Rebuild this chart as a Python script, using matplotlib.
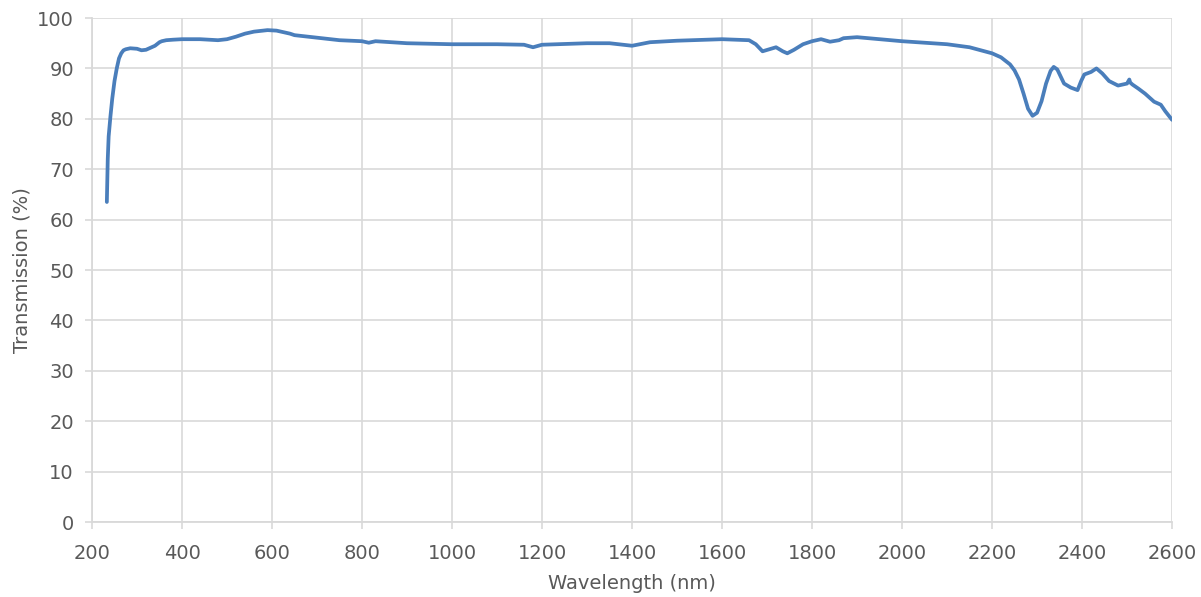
import numpy as np
import matplotlib.pyplot as plt

plt.rcParams['font.family'] = ['DejaVu Sans']

# transmission spectrum
wavelength = [233, 235, 237, 241, 245, 250, 255, 260, 265, 270, 275, 285, 300, 310, 320, 330,
              340, 350, 355, 365, 380, 400, 440, 480, 500, 520, 540, 560, 590, 610, 620, 640,
              650, 700, 750, 800, 815, 830, 900, 1000, 1100, 1160, 1180, 1200, 1300, 1350,
              1400, 1440, 1500, 1600, 1660, 1675, 1690, 1705, 1720, 1735, 1745, 1760, 1780,
              1800, 1820, 1840, 1860, 1870, 1900, 2000, 2100, 2150, 2200, 2220, 2240, 2250,
              2260, 2270, 2280, 2290, 2300, 2310, 2320, 2330, 2337, 2345, 2360, 2375, 2390,
              2398, 2405, 2420, 2432, 2445, 2460, 2480, 2500, 2505, 2507, 2512, 2525, 2540,
              2560, 2575, 2585, 2600]
transmission = [63.5, 72.0, 76.5, 80.5, 84.0, 87.5, 90.0, 92.0, 93.0, 93.6, 93.8, 94.0, 93.9,
                93.6, 93.7, 94.1, 94.5, 95.2, 95.4, 95.6, 95.7, 95.8, 95.8, 95.6, 95.8, 96.3,
                96.9, 97.3, 97.6, 97.5, 97.3, 96.9, 96.6, 96.1, 95.6, 95.4, 95.1, 95.4, 95.0,
                94.8, 94.8, 94.7, 94.2, 94.7, 95.0, 95.0, 94.5, 95.2, 95.5, 95.8, 95.6, 94.8,
                93.4, 93.8, 94.2, 93.4, 93.0, 93.7, 94.8, 95.4, 95.8, 95.3, 95.6, 96.0, 96.2,
                95.4, 94.8, 94.2, 93.0, 92.2, 90.8, 89.6, 87.8, 85.0, 82.0, 80.6, 81.2, 83.5,
                87.0, 89.5, 90.3, 89.8, 87.0, 86.2, 85.7, 87.5, 88.8, 89.3, 90.0, 89.0, 87.5,
                86.6, 87.0, 87.8, 87.2, 86.8, 86.0, 85.0, 83.4, 82.8, 81.5, 79.8]

x_ticks = np.arange(200, 2601, 200)
y_ticks = np.arange(0, 101, 10)

fig = plt.figure(figsize=(12.01, 5.97), dpi=100)
ax = fig.add_axes([0.0766, 0.1256, 0.8993, 0.8442])

ax.plot(wavelength, transmission, color='#4a7ebb', lw=2.7, solid_capstyle='round')

ax.set_xlim(200, 2600)
ax.set_ylim(0, 100)
ax.set_xticks(x_ticks)
ax.set_yticks(y_ticks)
ax.grid(True, color='#d9d9d9', lw=1.2)
ax.set_axisbelow(True)

for s in ['top', 'right']:
    ax.spines[s].set_visible(False)
for s in ['bottom', 'left']:
    ax.spines[s].set_color('#d9d9d9')
    ax.spines[s].set_linewidth(1.3)

ax.tick_params(axis='both', colors='#d9d9d9', labelcolor='#595959', labelsize=14,
               length=5, width=1.2)
ax.tick_params(axis='x', pad=11)
ax.tick_params(axis='y', pad=8)

ax.set_xlabel('Wavelength (nm)', fontsize=14, color='#595959', labelpad=8)
ax.set_ylabel('Transmission (%)', fontsize=14, color='#595959', labelpad=4)

fig.savefig('out.png', dpi=100)
